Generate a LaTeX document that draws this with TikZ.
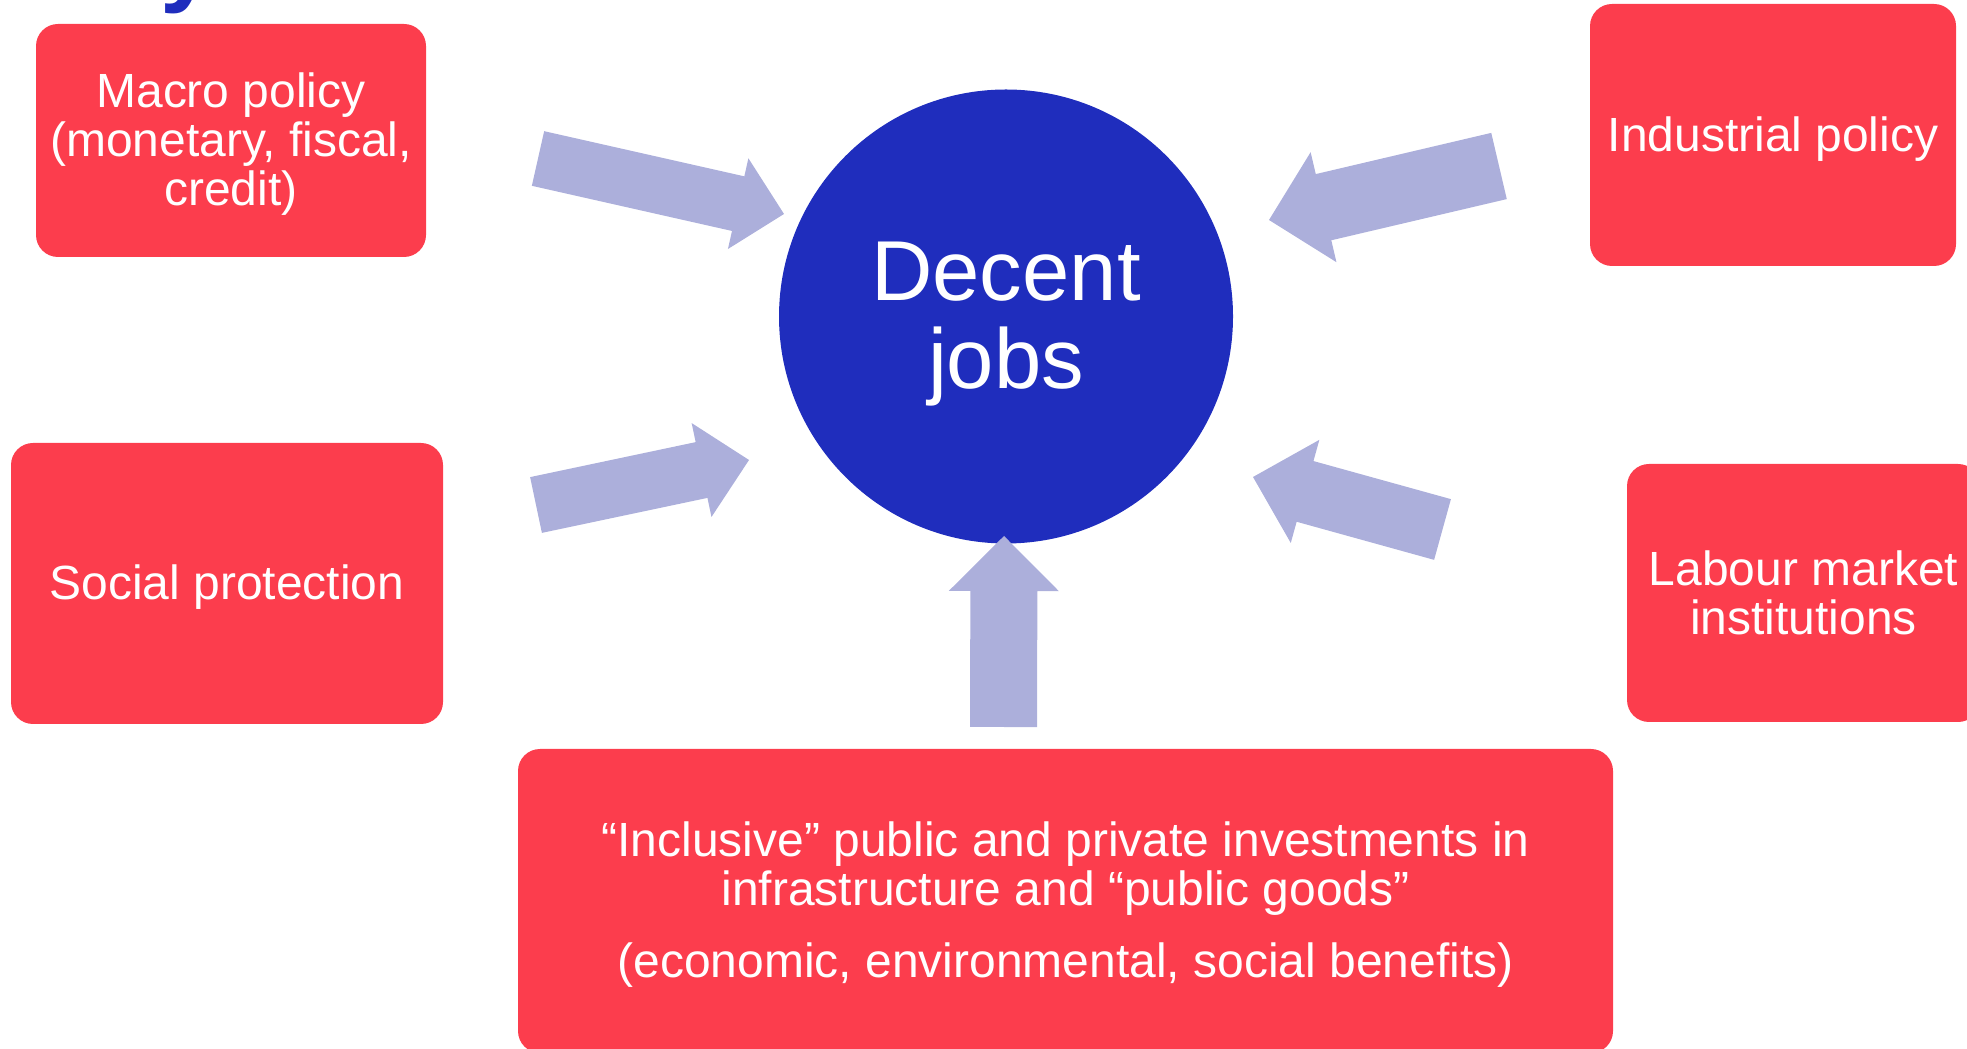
\documentclass[tikz,border=0pt]{standalone}
\usepackage{fontspec}
\setmainfont{Liberation Sans}
\usetikzlibrary{calc}

\definecolor{policyred}{RGB}{252,61,77}
\definecolor{jobsblue}{RGB}{31,45,189}
\definecolor{pushlilac}{RGB}{172,175,219}

% fat block arrow from tail #1 to tip #2:
% shaft half width #3, head half width #4, head length #5
\newcommand{\pusharrow}[5]{%
  \coordinate (#2base) at ($(#2)!#5!(#1)$);
  \fill[pushlilac]
    ($(#1)!#3!90:(#2)$) -- ($(#2base)!#3!90:(#2)$) -- ($(#2base)!#4!90:(#2)$)
    -- (#2) -- ($(#2base)!#4!-90:(#2)$) -- ($(#2base)!#3!-90:(#2)$)
    -- ($(#1)!#3!-90:(#2)$) -- cycle;
}

\begin{document}
\begin{tikzpicture}[
    policy/.style={fill=policyred, rounded corners=0.22cm, text=white,
      align=center, inner sep=0pt, outer sep=0pt,
      font=\fontsize{13.65}{14}\selectfont},
    goal/.style={circle, fill=jobsblue, text=white, align=center,
      inner sep=0pt, minimum size=4.54cm,
      font=\fontsize{24.2}{25}\selectfont}
  ]
  \useasboundingbox (0,0) rectangle (19.67,10.48);

  % tail of the slide title peeking in at the top
  \node[anchor=base west, inner sep=0pt, text=jobsblue,
        font=\bfseries\fontsize{28}{28}\selectfont] (title-y) at (1.60,10.54) {y};

  % the four policy areas round the goal
  \node[policy, minimum width=3.90cm, minimum height=2.33cm] (macro) at (2.31,9.075)
    {\rule{0pt}{0.42cm}Macro policy\\(monetary, fiscal,\\credit)};
  \node[policy, minimum width=3.66cm, minimum height=2.62cm] (industry) at (17.73,9.13)
    {\rule{0pt}{0.42cm}Industrial policy};
  \node[policy, minimum width=4.32cm, minimum height=2.81cm] (social) at (2.27,4.645)
    {\rule{0pt}{0.42cm}Social protection};
  \node[policy, minimum width=3.53cm, minimum height=2.58cm] (labour) at (18.035,4.55)
    {Labour market\\institutions};

  % investments underneath
  \node[policy, minimum width=10.95cm, minimum height=3.04cm] (invest) at (10.655,1.47)
    {\rule{0pt}{0.42cm}``Inclusive'' public and private investments in\\
     infrastructure and ``public goods''\\[6.5pt]
     (economic, environmental, social benefits)};

  % the goal
  \node[goal] (jobs) at (10.06,7.315) {\rule{0pt}{0.74cm}Decent\\jobs};

  % arrows pushing in on the goal
  \coordinate (macro-tail) at (5.38,8.895);   \coordinate (macro-tip) at (7.84,8.34);
  \coordinate (industry-tail) at (14.99,8.82); \coordinate (industry-tip) at (12.69,8.28);
  \coordinate (social-tail) at (5.36,5.43);    \coordinate (social-tip) at (7.49,5.88);
  \coordinate (labour-tail) at (14.425,5.185); \coordinate (labour-tip) at (12.53,5.71);
  \coordinate (invest-tail) at (10.035,3.21);  \coordinate (invest-tip) at (10.04,5.12);

  \pusharrow{macro-tail}{macro-tip}{0.28cm}{0.465cm}{0.47cm}
  \pusharrow{industry-tail}{industry-tip}{0.34cm}{0.565cm}{0.56cm}
  \pusharrow{social-tail}{social-tip}{0.285cm}{0.48cm}{0.485cm}
  \pusharrow{labour-tail}{labour-tip}{0.315cm}{0.535cm}{0.54cm}
  \pusharrow{invest-tail}{invest-tip}{0.335cm}{0.55cm}{0.55cm}
\end{tikzpicture}
\end{document}
